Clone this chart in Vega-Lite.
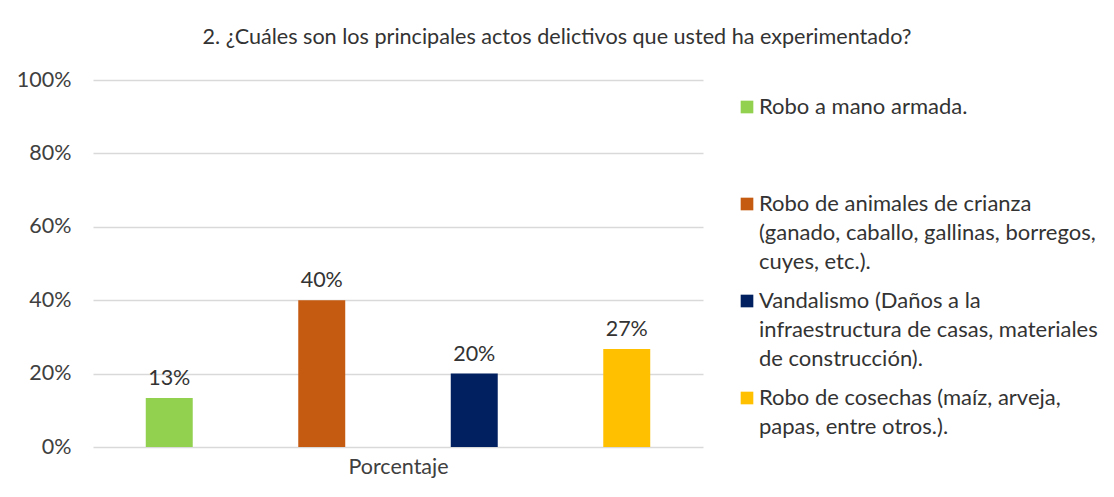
{
  "$schema": "https://vega.github.io/schema/vega-lite/v6.json",
  "width": 610,
  "height": 367,
  "autosize": {"type": "none"},
  "padding": {"left": 93, "top": 80, "right": 411, "bottom": 50},
  "background": "white",
  "title": {
    "text": "2. ¿Cuáles son los principales actos delictivos que usted ha experimentado?",
    "anchor": "middle",
    "frame": "group",
    "dx": 159,
    "offset": 3,
    "baseline": "alphabetic",
    "fontSize": 21.6,
    "font": "Lato",
    "fontWeight": "normal",
    "color": "#333333"
  },
  "data": {
    "values": [
      {"acto": "Robo a mano armada.", "valor": 0.1333},
      {"acto": "Robo de animales de crianza (ganado, caballo, gallinas, borregos, cuyes, etc.).", "valor": 0.4},
      {"acto": "Vandalismo (Daños a la infraestructura de casas, materiales de construcción).", "valor": 0.2},
      {"acto": "Robo de cosechas (maíz, arveja, papas, entre otros.).", "valor": 0.2667}
    ]
  },
  "encoding": {
    "x": {
      "field": "acto",
      "type": "nominal",
      "sort": null,
      "scale": {"paddingInner": 0.692, "paddingOuter": 0.346},
      "axis": {"labels": false, "ticks": false, "domain": false, "grid": false, "title": "Porcentaje", "titlePadding": 9}
    },
    "y": {
      "field": "valor",
      "type": "quantitative",
      "scale": {"domain": [0, 1]},
      "axis": {
        "format": ".0%",
        "values": [0, 0.2, 0.4, 0.6, 0.8, 1],
        "ticks": false,
        "domain": false,
        "labelPadding": 22,
        "title": null,
        "gridColor": "#d9d9d9",
        "gridWidth": 1.3
      }
    }
  },
  "layer": [
    {
      "mark": {"type": "bar"},
      "encoding": {
        "color": {
          "field": "acto",
          "type": "nominal",
          "scale": {
            "domain": [
              "Robo a mano armada.",
              "Robo de animales de crianza (ganado, caballo, gallinas, borregos, cuyes, etc.).",
              "Vandalismo (Daños a la infraestructura de casas, materiales de construcción).",
              "Robo de cosechas (maíz, arveja, papas, entre otros.)."
            ],
            "range": ["#92D050", "#C55A11", "#002060", "#FFC000"]
          },
          "legend": {
            "orient": "none",
            "legendX": 643,
            "legendY": 16,
            "title": null,
            "symbolType": "square",
            "symbolSize": 160,
            "symbolStrokeWidth": 0,
            "labelFont": "Lato",
            "labelFontSize": 22,
            "labelColor": "#333333",
            "labelLimit": 420,
            "labelOffset": 1,
            "labelBaseline": "alphabetic",
            "rowPadding": 17,
            "padding": 0,
            "labelExpr": "datum.label == 'Robo a mano armada.' ? ['Robo a mano armada.', '', ''] : datum.label == 'Robo de animales de crianza (ganado, caballo, gallinas, borregos, cuyes, etc.).' ? ['Robo de animales de crianza', '(ganado, caballo, gallinas, borregos,', 'cuyes, etc.).'] : datum.label == 'Vandalismo (Daños a la infraestructura de casas, materiales de construcción).' ? ['Vandalismo (Daños a la', 'infraestructura de casas, materiales', 'de construcción).'] : ['Robo de cosechas (maíz, arveja,', 'papas, entre otros.).']",
            "encode": {"labels": {"update": {"lineHeight": {"value": 29}, "dy": {"value": 7}}}}
          }
        }
      }
    },
    {
      "mark": {"type": "text", "baseline": "alphabetic", "dy": -13, "fontSize": 21.5, "font": "Lato", "color": "#333333"},
      "encoding": {"text": {"field": "valor", "type": "quantitative", "format": ".0%"}}
    }
  ],
  "config": {
    "view": {"stroke": null},
    "axis": {
      "labelFont": "Lato",
      "labelFontSize": 21.5,
      "labelColor": "#404040",
      "titleFont": "Lato",
      "titleFontSize": 21.5,
      "titleFontWeight": "normal",
      "titleColor": "#404040"
    }
  }
}
